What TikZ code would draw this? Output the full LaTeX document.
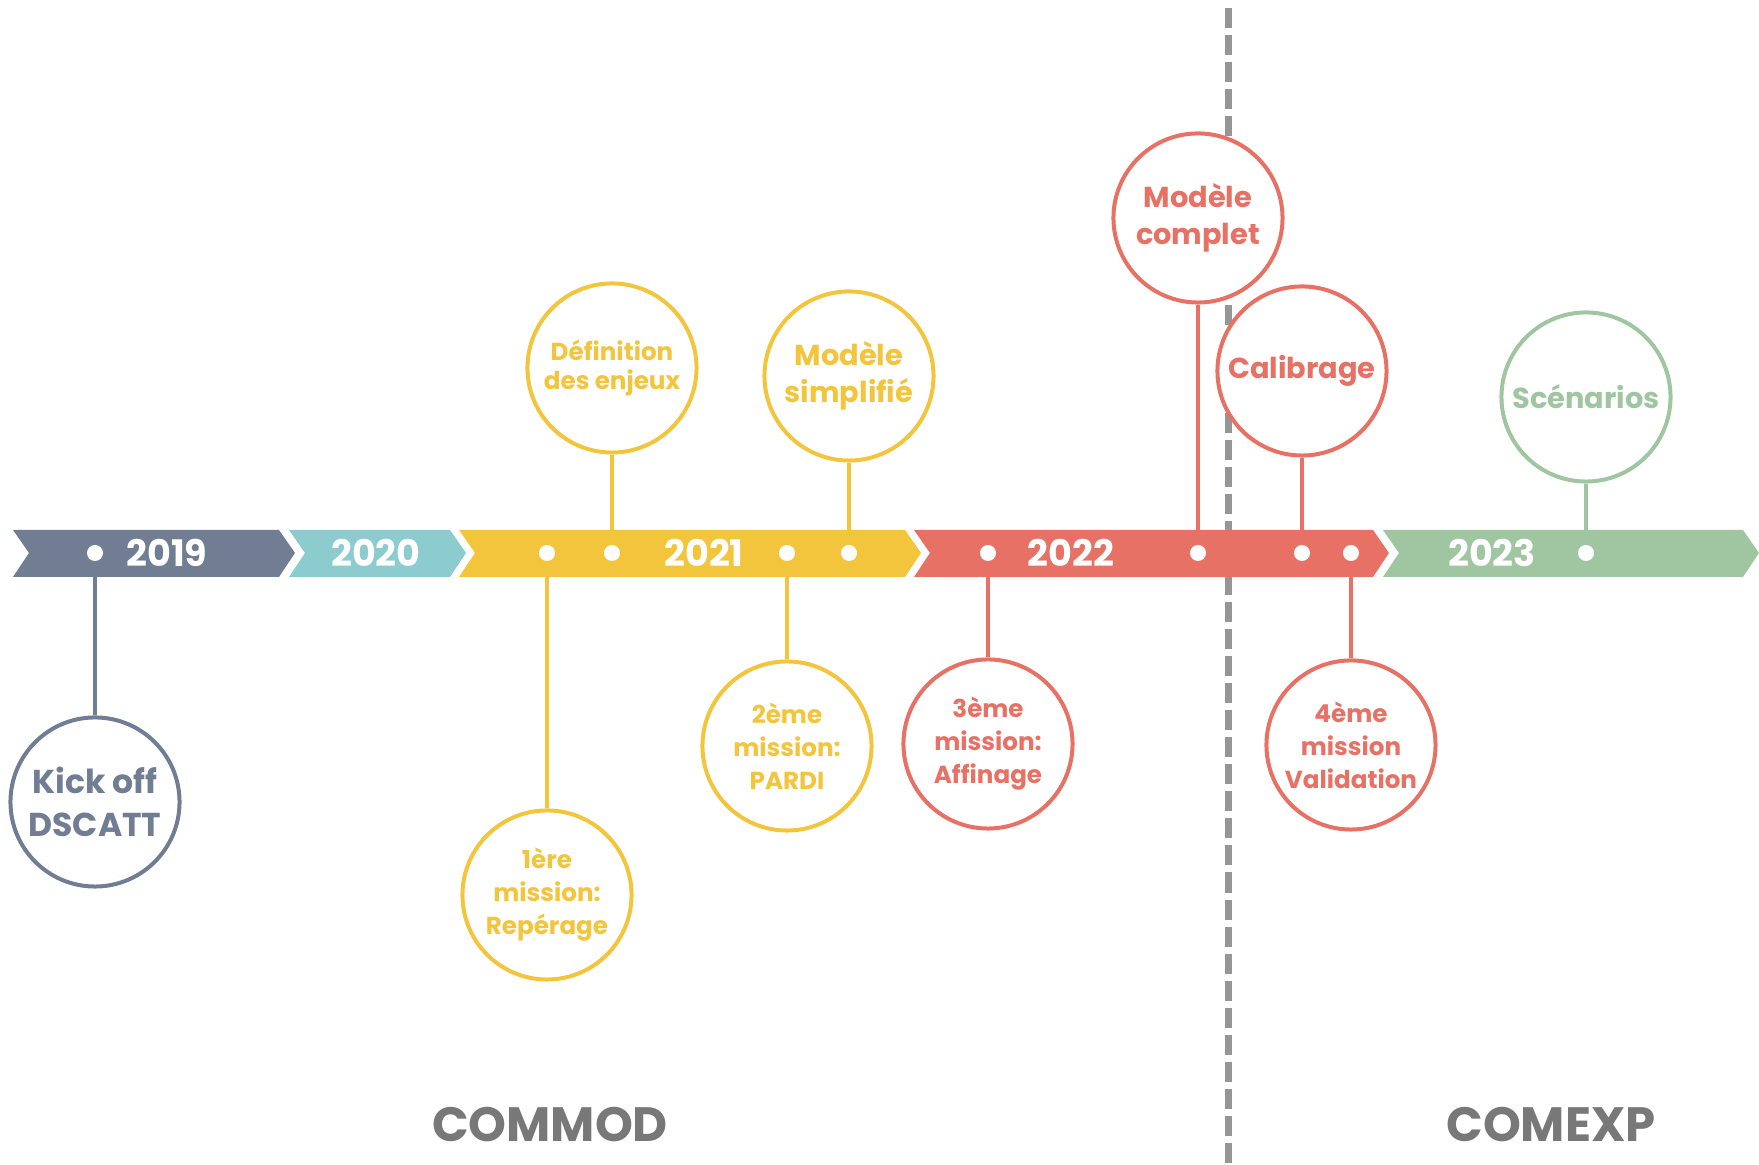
\documentclass[tikz,border=0pt]{standalone}
\usepackage{fontspec}
\setmainfont{Poppins}
\usetikzlibrary{backgrounds}

\definecolor{slate}{RGB}{112,125,147}
\definecolor{teal}{RGB}{140,203,206}
\definecolor{gold}{RGB}{242,197,61}
\definecolor{coral}{RGB}{231,113,101}
\definecolor{sage}{RGB}{160,198,161}
\definecolor{dashgray}{RGB}{150,150,150}
\definecolor{labelgray}{RGB}{120,120,120}

\tikzset{
  yearlabel/.style={text=white, font=\bfseries\fontsize{10.4}{12}\selectfont},
  dot/.style={circle, fill=white, inner sep=0pt, minimum size=0.16cm},
  milestone/.style={circle, draw=#1, fill=white, line width=0.04cm, minimum size=1.69cm,
    inner sep=0pt, align=center, text=#1},
  stem/.style={line width=0.04cm, draw=#1},
  big/.style={font=\bfseries\fontsize{9.4}{12.2}\selectfont},
  mid/.style={font=\bfseries\fontsize{8.2}{10.5}\selectfont},
  small/.style={font=\bfseries\fontsize{7.0}{8.5}\selectfont},
  mission/.style={font=\bfseries\fontsize{7.0}{9.4}\selectfont}
}

\begin{document}
\begin{tikzpicture}[x=0.01cm, y=-0.01cm]
\useasboundingbox (0,0) rectangle (1759,1165);

% year bands
\fill[slate] (13,530) -- (279,530) -- (295,553) -- (279,577) -- (13,577) -- (29,553) -- cycle;
\fill[teal] (289,530) -- (450,530) -- (466,553) -- (450,577) -- (289,577) -- (305,553) -- cycle;
\fill[gold] (459,530) -- (905,530) -- (921,553) -- (905,577) -- (459,577) -- (475,553) -- cycle;
\fill[coral] (914,530) -- (1373,530) -- (1389,553) -- (1373,577) -- (914,577) -- (930,553) -- cycle;
\fill[sage] (1383,530) -- (1743,530) -- (1759,553) -- (1743,577) -- (1383,577) -- (1399,553) -- cycle;

\node[yearlabel] (y2019) at (167,553) {2019};
\node[yearlabel] (y2020) at (376,553) {2020};
\node[yearlabel] (y2021) at (704,553) {2021};
\node[yearlabel] (y2022) at (1071,553) {2022};
\node[yearlabel] (y2023) at (1492,553) {2023};

% dots on the bands
\node[dot] (d1) at (95,553) {};
\node[dot] (d2) at (547,553) {};
\node[dot] (d3) at (612,553) {};
\node[dot] (d4) at (787,553) {};
\node[dot] (d5) at (849,553) {};
\node[dot] (d6) at (988,553) {};
\node[dot] (d7) at (1198,553) {};
\node[dot] (d8) at (1302,553) {};
\node[dot] (d9) at (1351,553) {};
\node[dot] (d10) at (1586,553) {};

% milestones
\node[milestone=slate, big] (kickoff) at (95,802) {Kick off\\DSCATT};
\node[milestone=gold, mission] (mission1) at (547,895) {1ère\\mission:\\Repérage};
\node[milestone=gold, small] (enjeux) at (612,368) {Définition\\des enjeux};
\node[milestone=gold, mission] (mission2) at (787,746) {2ème\\mission:\\PARDI};
\node[milestone=gold, mid] (simplifie) at (849,376) {Modèle\\simplifié};
\node[milestone=coral, mission] (mission3) at (988,744) {3ème\\mission:\\Affinage};
\node[milestone=coral, mid] (complet) at (1198,218) {Modèle\\complet};
\node[milestone=coral, mid] (calibrage) at (1302,371) {Calibrage};
\node[milestone=coral, mission] (mission4) at (1351,745) {4ème\\mission\\Validation};
\node[milestone=sage, mid] (scenarios) at (1586,397) {Scénarios};

\begin{scope}[on background layer]
\coordinate (splittop) at (1228,8);
\coordinate (splitbot) at (1228,1165);
\draw[dashgray, line width=0.07cm, dash pattern=on 0.2cm off 0.07cm] (splittop) -- (splitbot);
\draw[stem=slate] (d1) -- (kickoff);
\draw[stem=gold] (d2) -- (mission1);
\draw[stem=gold] (d3) -- (enjeux);
\draw[stem=gold] (d4) -- (mission2);
\draw[stem=gold] (d5) -- (simplifie);
\draw[stem=coral] (d6) -- (mission3);
\draw[stem=coral] (d7) -- (complet);
\draw[stem=coral] (d8) -- (calibrage);
\draw[stem=coral] (d9) -- (mission4);
\draw[stem=sage] (d10) -- (scenarios);
\end{scope}

% phases
\node[text=labelgray, font=\bfseries\fontsize{13.7}{16}\selectfont] (commod) at (550,1125) {COMMOD};
\node[text=labelgray, font=\bfseries\fontsize{13.7}{16}\selectfont] (comexp) at (1551,1125) {COMEXP};
\end{tikzpicture}
\end{document}
